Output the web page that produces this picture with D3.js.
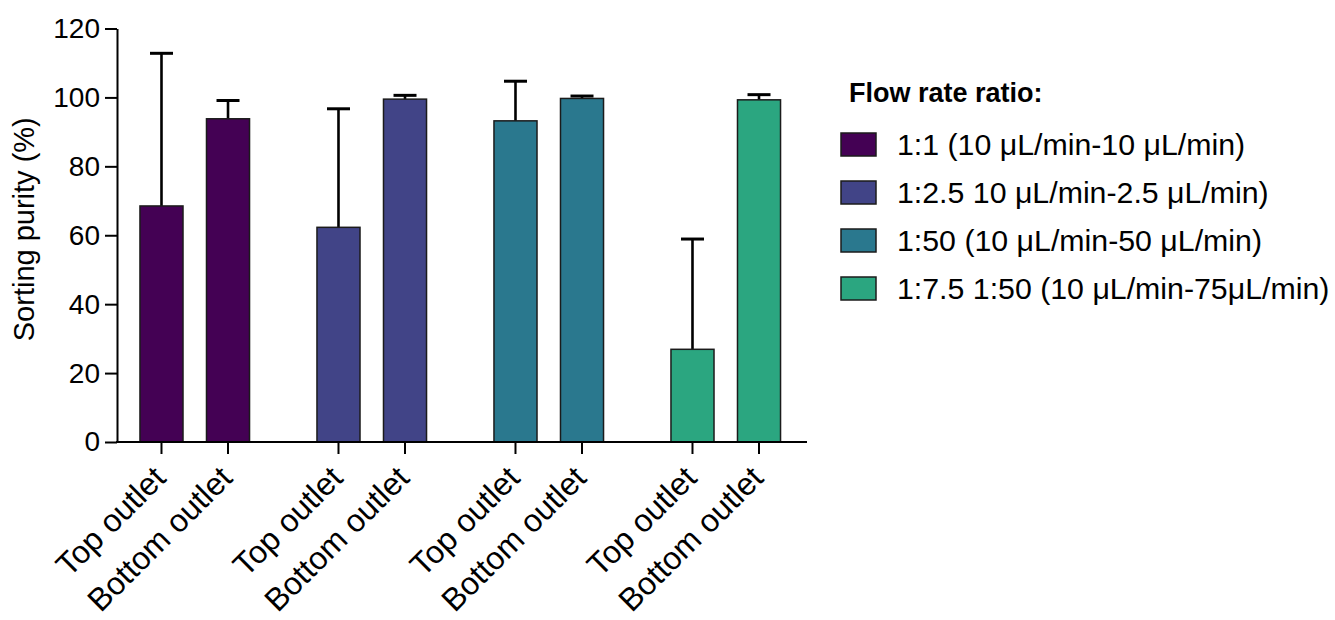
<!DOCTYPE html>
<html>
<head>
<meta charset="utf-8">
<script src="https://cdn.jsdelivr.net/npm/d3@7/dist/d3.min.js"></script>
<style>
  html, body { margin: 0; padding: 0; background: #fff; }
  svg text { font-family: "Liberation Sans", Arial, Helvetica, sans-serif; fill: #000; }
</style>
</head>
<body>
<svg id="chart" width="1335" height="620"></svg>
<script>
// Flow-rate conditions (one colour group each) and the two outlets measured per condition
const flowRatios = [
  "1:1 (10 μL/min-10 μL/min)",
  "1:2.5 10 μL/min-2.5 μL/min)",
  "1:50 (10 μL/min-50 μL/min)",
  "1:7.5 1:50 (10 μL/min-75μL/min)"
];
const outlets = ["Top outlet", "Bottom outlet"];

// Mean sorting purity (%) and upper error (SD) per condition
const topOutletMean    = [68.5, 62.3, 93.2, 26.9];
const bottomOutletMean = [93.8, 99.5, 99.7, 99.3];
const topOutletSD      = [44.3, 34.4, 11.5, 32.0];
const bottomOutletSD   = [5.3, 1.1, 0.7, 1.5];

const yTicks = [0, 20, 40, 60, 80, 100, 120];
const yTitle = "Sorting purity (%)";
const legendTitle = "Flow rate ratio:";

const palette = ["#440154", "#414487", "#2a788e", "#2ba680"];

// Flatten into one record per bar
const bars = [];
flowRatios.forEach((g, i) => {
  bars.push({ group: g, outlet: outlets[0], mean: topOutletMean[i], sd: topOutletSD[i], gi: i });
  bars.push({ group: g, outlet: outlets[1], mean: bottomOutletMean[i], sd: bottomOutletSD[i], gi: i });
});

const svg = d3.select("#chart");

const x0 = 117, x1 = 807;          // x-axis line extent
const yBase = 442, yTop = 28.5;

const y = d3.scaleLinear().domain([0, 120]).range([yBase, yTop]);

const xGroup = d3.scaleBand()
  .domain(flowRatios)
  .range([106.25, 814.25])
  .paddingInner(0.381)
  .paddingOuter(0.1905);

const xOutlet = d3.scaleBand()
  .domain(outlets)
  .range([0, xGroup.bandwidth()])
  .paddingInner(0.353)
  .paddingOuter(0);

const color = d3.scaleOrdinal().domain(flowRatios).range(palette);

const barX = d => xGroup(d.group) + xOutlet(d.outlet);
const barC = d => barX(d) + xOutlet.bandwidth() / 2;

// Error bars (upper only), drawn beneath the bars
const err = svg.append("g").attr("stroke", "#000").attr("stroke-width", 2.6).attr("fill", "none");
bars.forEach(d => {
  const cx = barC(d);
  err.append("line").attr("x1", cx).attr("x2", cx).attr("y1", y(d.mean)).attr("y2", y(d.mean + d.sd));
  err.append("line").attr("x1", cx - 11.5).attr("x2", cx + 11.5)
    .attr("y1", y(d.mean + d.sd)).attr("y2", y(d.mean + d.sd)).attr("stroke-width", 3);
});

// Bars
svg.append("g").selectAll("rect").data(bars).join("rect")
  .attr("x", barX)
  .attr("width", xOutlet.bandwidth())
  .attr("y", d => y(d.mean))
  .attr("height", d => y(0) - y(d.mean))
  .attr("fill", d => color(d.group))
  .attr("stroke", "#1b1b1b")
  .attr("stroke-width", 1.5);

// Y axis
const yAxis = d3.axisLeft(y).tickValues(yTicks).tickSize(12).tickSizeOuter(0).tickPadding(5);
const gy = svg.append("g").attr("transform", `translate(${x0},0)`).call(yAxis);
gy.select(".domain").attr("stroke", "#000").attr("stroke-width", 2);
gy.selectAll(".tick line").attr("stroke", "#000").attr("stroke-width", 2);
gy.selectAll(".tick text").attr("font-size", 28).attr("font-family", "Liberation Sans, Arial, sans-serif").attr("fill", "#000");

// X axis: baseline plus ticks at bar centres
svg.append("line").attr("x1", x0 - 1).attr("x2", x1).attr("y1", yBase).attr("y2", yBase)
  .attr("stroke", "#000").attr("stroke-width", 2);
svg.append("g").selectAll("line").data(bars).join("line")
  .attr("x1", barC).attr("x2", barC)
  .attr("y1", yBase).attr("y2", yBase + 12)
  .attr("stroke", "#000").attr("stroke-width", 2);

svg.append("g").selectAll("text").data(bars).join("text")
  .attr("transform", d => `translate(${barC(d) + 6},${yBase + 38}) rotate(-45)`)
  .attr("text-anchor", "end")
  .attr("font-size", 32)
  .text(d => d.outlet);

// Y axis title
svg.append("text")
  .attr("transform", `translate(34,${(yBase + yTop) / 2 - 6}) rotate(-90)`)
  .attr("text-anchor", "middle")
  .attr("font-size", 29)
  .text(yTitle);

// Legend
const lg = svg.append("g").attr("transform", "translate(841,0)");
lg.append("text").attr("x", 8).attr("y", 102).attr("font-size", 27).attr("font-weight", "bold").text(legendTitle);
const items = lg.selectAll("g.item").data(flowRatios).join("g")
  .attr("class", "item")
  .attr("transform", (d, i) => `translate(0,${133 + i * 48})`);
items.append("rect").attr("width", 35).attr("height", 23)
  .attr("fill", d => color(d)).attr("stroke", "#1b1b1b").attr("stroke-width", 1.5);
items.append("text").attr("x", 56).attr("y", 22).attr("font-size", 30.3).text(d => d);
</script>
</body>
</html>
